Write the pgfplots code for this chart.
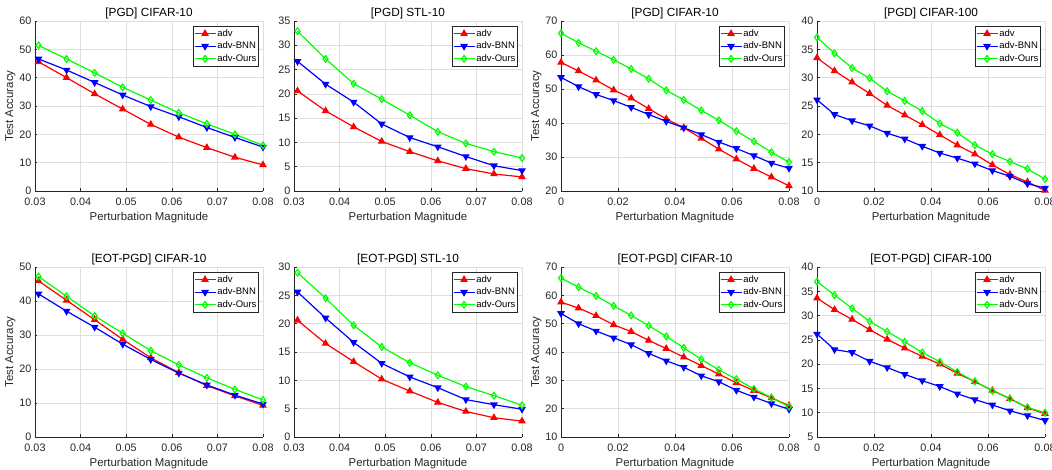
\documentclass[border=0pt]{standalone}
\usepackage{pgfplots}
\pgfplotsset{compat=1.18}
\usepackage{pgfplotstable}
\usepackage{fontspec}
\setmainfont{Liberation Sans}
\definecolor{mred}{rgb}{1,0,0}
\definecolor{mblue}{rgb}{0,0,1}
\definecolor{mgreen}{rgb}{0,1,0}
\definecolor{axcol}{rgb}{0.15,0.15,0.15}
\definecolor{gridcol}{rgb}{0.87,0.87,0.87}

% panel 1: [PGD] CIFAR-10 (0.03-0.08)
\pgfplotstableread{
x adv bnn ours
0.030769 45.6 46.6 51.4
0.036923 40.0 42.7 46.6
0.043077 34.3 38.3 41.7
0.049231 28.9 33.9 36.6
0.055385 23.5 29.8 32.1
0.061538 19.0 26.2 27.6
0.067692 15.3 22.4 23.7
0.073846 11.9 18.9 20.0
0.080000 9.2 15.5 16.1
}\tA
% panel 2: [PGD] STL-10
\pgfplotstableread{
x adv bnn ours
0.030769 20.6 26.7 32.9
0.036923 16.5 22.0 27.2
0.043077 13.2 18.3 22.1
0.049231 10.2 13.8 18.9
0.055385 8.1 11.0 15.6
0.061538 6.2 9.1 12.2
0.067692 4.6 7.1 9.8
0.073846 3.5 5.2 8.1
0.080000 2.9 4.2 6.8
}\tB
% panel 3: [PGD] CIFAR-10 (0-0.08)
\pgfplotstableread{
x adv bnn ours
0.000000 57.8 53.4 66.4
0.006154 55.3 50.7 63.6
0.012308 52.6 48.4 61.1
0.018462 49.7 46.6 58.6
0.024615 47.3 44.6 55.9
0.030769 44.2 42.5 53.0
0.036923 41.2 40.5 49.6
0.043077 38.6 38.6 46.8
0.049231 35.5 36.6 43.7
0.055385 32.3 34.4 40.8
0.061538 29.4 32.5 37.6
0.067692 26.6 30.4 34.6
0.073846 24.1 28.2 31.4
0.080000 21.5 26.7 28.5
}\tC
% panel 4: [PGD] CIFAR-100
\pgfplotstableread{
x adv bnn ours
0.000000 33.5 26.1 37.1
0.006154 31.2 23.5 34.3
0.012308 29.2 22.4 31.7
0.018462 27.2 21.5 29.9
0.024615 25.1 20.2 27.6
0.030769 23.4 19.2 25.9
0.036923 21.7 17.9 24.1
0.043077 19.9 16.7 21.9
0.049231 18.1 15.8 20.3
0.055385 16.5 14.8 18.1
0.061538 14.6 13.6 16.5
0.067692 12.9 12.6 15.2
0.073846 11.6 11.3 13.9
0.080000 10.1 10.5 12.1
}\tD
% panel 5: [EOT-PGD] CIFAR-10 (0.03-0.08)
\pgfplotstableread{
x adv bnn ours
0.030769 45.9 42.1 47.2
0.036923 40.2 37.0 41.4
0.043077 34.5 32.3 35.6
0.049231 28.7 27.3 30.5
0.055385 23.3 22.8 25.4
0.061538 18.9 18.8 21.2
0.067692 15.1 15.3 17.4
0.073846 12.1 12.3 14.0
0.080000 9.3 9.7 10.9
}\tE
% panel 6: [EOT-PGD] STL-10
\pgfplotstableread{
x adv bnn ours
0.030769 20.6 25.6 29.0
0.036923 16.5 21.0 24.5
0.043077 13.3 16.7 19.7
0.049231 10.2 13.0 15.9
0.055385 8.1 10.6 13.1
0.061538 6.1 8.7 10.9
0.067692 4.5 6.6 8.9
0.073846 3.4 5.7 7.3
0.080000 2.8 4.9 5.6
}\tF
% panel 7: [EOT-PGD] CIFAR-10 (0-0.08)
\pgfplotstableread{
x adv bnn ours
0.000000 57.6 53.6 66.1
0.006154 55.5 50.0 62.9
0.012308 52.8 47.4 59.8
0.018462 49.6 45.0 56.3
0.024615 47.2 42.6 52.9
0.030769 44.1 39.5 49.3
0.036923 41.2 36.9 45.5
0.043077 38.2 34.6 41.5
0.049231 35.2 31.6 37.4
0.055385 32.2 29.5 33.7
0.061538 29.1 26.5 30.4
0.067692 26.4 24.1 27.0
0.073846 23.8 21.8 23.9
0.080000 21.1 19.8 20.7
}\tG
% panel 8: [EOT-PGD] CIFAR-100
\pgfplotstableread{
x adv bnn ours
0.000000 33.6 26.2 37.0
0.006154 31.2 23.0 34.2
0.012308 29.2 22.4 31.5
0.018462 27.1 20.6 28.8
0.024615 25.1 19.3 26.7
0.030769 23.3 17.9 24.6
0.036923 21.6 16.6 22.4
0.043077 20.0 15.4 20.5
0.049231 18.1 13.9 18.4
0.055385 16.4 12.7 16.4
0.061538 14.6 11.6 14.5
0.067692 12.9 10.4 12.9
0.073846 11.0 9.4 11.1
0.080000 9.8 8.4 10.0
}\tH

\pgfplotsset{
  mat/.style={
    scale only axis, width=228pt, height=170pt, anchor=south west,
    axis lines*=left, axis line style={-, draw=axcol, line width=0.6pt},
    grid=major, major grid style={draw=gridcol, line width=0.5pt},
    tick align=inside, major tick length=2.5pt, tick style={draw=axcol, line width=0.5pt},
    clip=false, scaled x ticks=false, scaled y ticks=false,
    /pgf/number format/assume math mode=true,
    ticklabel style={font=\fontsize{10.8}{12}\selectfont, text=axcol},
    xticklabel style={yshift=-3pt},
    label style={font=\fontsize{11.4}{13}\selectfont, text=axcol},
    ylabel style={yshift=-3pt},
    title style={font=\fontsize{11.8}{13}\selectfont, text=black, yshift=-7pt},
    xlabel={Perturbation Magnitude},
    legend cell align=left,
    legend style={at={(0.982,0.97)}, anchor=north east, draw=axcol, line width=0.5pt,
      font=\fontsize{9.5}{10}\selectfont, inner sep=1pt,
      nodes={inner sep=1.2pt, text height=7.8pt, text depth=2.4pt}, row sep=0pt},
    legend image code/.code={\draw[mark repeat=2,mark phase=2] plot coordinates {(0cm,0cm) (0.37cm,0cm) (0.74cm,0cm)};},
  },
  narrow/.style={xmin=0.03, xmax=0.08, xtick={0.03,0.04,0.05,0.06,0.07,0.08},
    xticklabels={0.03,0.04,0.05,0.06,0.07,0.08}},
  wide/.style={xmin=0, xmax=0.08, xtick={0,0.02,0.04,0.06,0.08},
    xticklabels={0,0.02,0.04,0.06,0.08}},
  sadv/.style={color=mred, line width=1.2pt, mark=triangle*, mark size=3.3pt, mark options={fill=mred, solid}},
  sbnn/.style={color=mblue, line width=1.2pt, mark=triangle*, mark size=3.3pt, mark options={fill=mblue, rotate=180, solid}},
  sours/.style={color=mgreen, line width=1.2pt, mark=diamond, mark size=3.3pt, mark options={solid}},
}

\newcommand{\threeplots}[1]{%
  \addplot[sadv] table[x=x,y=adv]{#1};
  \addplot[sbnn] table[x=x,y=bnn]{#1};
  \addplot[sours] table[x=x,y=ours]{#1};
  \legend{adv,adv-BNN,adv-Ours}
}

\begin{document}
\begin{tikzpicture}
\useasboundingbox (0pt,0pt) rectangle (1052pt,470pt);
% row 1
\begin{axis}[mat, narrow, at={(35pt,279pt)}, ymin=0, ymax=60, ytick={0,10,...,60},
  ylabel={Test Accuracy}, title={[PGD] CIFAR-10}]
\threeplots{\tA}
\end{axis}
\begin{axis}[mat, narrow, at={(294pt,279pt)}, ymin=0, ymax=35, ytick={0,5,...,35},
  title={[PGD] STL-10}]
\threeplots{\tB}
\end{axis}
\begin{axis}[mat, wide, at={(561pt,279pt)}, ymin=20, ymax=70, ytick={20,30,...,70},
  ylabel={Test Accuracy}, title={[PGD] CIFAR-10}]
\threeplots{\tC}
\end{axis}
\begin{axis}[mat, wide, at={(817pt,279pt)}, ymin=10, ymax=40, ytick={10,15,...,40},
  title={[PGD] CIFAR-100}]
\threeplots{\tD}
\end{axis}
% row 2
\begin{axis}[mat, narrow, at={(35pt,33pt)}, ymin=0, ymax=50, ytick={0,10,...,50},
  ylabel={Test Accuracy}, title={[EOT-PGD] CIFAR-10}]
\threeplots{\tE}
\end{axis}
\begin{axis}[mat, narrow, at={(294pt,33pt)}, ymin=0, ymax=30, ytick={0,5,...,30},
  title={[EOT-PGD] STL-10}]
\threeplots{\tF}
\end{axis}
\begin{axis}[mat, wide, at={(561pt,33pt)}, ymin=10, ymax=70, ytick={10,20,...,70},
  ylabel={Test Accuracy}, title={[EOT-PGD] CIFAR-10}]
\threeplots{\tG}
\end{axis}
\begin{axis}[mat, wide, at={(817pt,33pt)}, ymin=5, ymax=40, ytick={5,10,...,40},
  title={[EOT-PGD] CIFAR-100}]
\threeplots{\tH}
\end{axis}
\end{tikzpicture}
\end{document}
